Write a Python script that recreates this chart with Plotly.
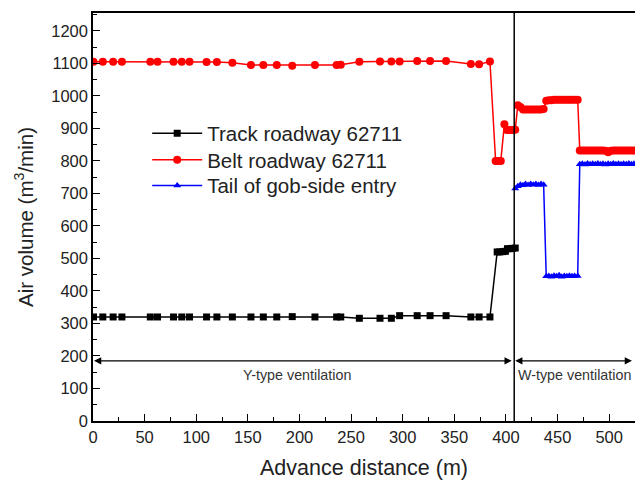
import plotly.graph_objects as go

# ---- data ----
track_x = [0.5, 9.5, 19.5, 28, 55.5, 62.5, 78, 86, 93.5, 110, 120, 135, 153, 165, 178, 193,
           215, 236, 240, 258, 278, 289, 297, 314, 326.5, 342, 366, 374, 384.5,
           391.5, 394, 397, 399.5, 401.5, 404, 406.5, 409]
track_y = [320, 320, 320, 320, 320, 320, 320, 320, 320, 320, 320, 320, 320, 320, 320, 321,
           320, 320, 320, 316, 316, 316, 324, 324, 324, 324, 320, 320, 320,
           520, 520, 521, 522, 530, 530, 531, 532]

belt_x = [0.5, 9.5, 19.5, 28, 55.5, 62.5, 78, 86, 93.5, 110, 120, 135, 153, 165, 178, 193,
          215, 236, 240, 258, 278, 289, 297, 314, 326.5, 342, 366, 374, 384.5,
          390, 392.5, 395, 398.5, 401, 403.5, 406, 409,
          411.5, 414, 416.5, 419, 421.5, 424, 426.5, 429, 431.5, 434, 436.5,
          439, 441.5, 444, 446.5, 449, 451.5, 454, 456.5, 459, 461.5, 464, 466.5, 469.5,
          471.5, 474, 476.5, 479, 481.5, 484, 486.5, 489, 491.5, 494, 496.5, 499, 501.5,
          504, 506.5, 509, 511.5, 514, 516.5, 519, 521.5, 524]
belt_y = [1105, 1105, 1105, 1105, 1105, 1105, 1105, 1105, 1105, 1104, 1104, 1102, 1095, 1095, 1095, 1093,
          1095, 1095, 1096, 1105, 1106, 1106, 1106, 1107, 1107, 1107, 1098, 1097, 1106,
          800, 800, 800, 913, 895, 895, 895, 896,
          971, 966, 958, 958, 958, 958, 958, 958, 958, 958, 960,
          985, 987, 987, 988, 988, 988, 988, 988, 988, 988, 988, 988, 988,
          832, 832, 832, 832, 832, 832, 832, 832, 832, 832, 831, 827, 831,
          832, 832, 832, 832, 832, 832, 832, 832, 832]

tail_x = [409, 411.5, 414, 416.5, 419, 421.5, 424, 426.5, 429, 431.5, 434, 436.5,
          439, 441.5, 444, 446.5, 449, 451.5, 454, 456.5, 459, 461.5, 464, 466.5, 469.5,
          471.5, 474, 476.5, 479, 481.5, 484, 486.5, 489, 491.5, 494, 496.5, 499, 501.5,
          504, 506.5, 509, 511.5, 514, 516.5, 519, 521.5, 524]
tail_y = [715, 722, 727, 725, 729, 726, 729, 727, 729, 726, 729, 727,
          445, 446, 444, 447, 445, 448, 444, 446, 445, 447, 445, 446, 446,
          790, 791, 789, 792, 790, 791, 790, 792, 790, 791, 789, 791, 790,
          792, 790, 791, 790, 791, 790, 792, 790, 791]

x_ticks = [0, 50, 100, 150, 200, 250, 300, 350, 400, 450, 500]
y_ticks = [0, 100, 200, 300, 400, 500, 600, 700, 800, 900, 1000, 1100, 1200]
switch_x = 408
arrow_y = 185

FONT = "Arial, Liberation Sans, sans-serif"

fig = go.Figure()
fig.add_trace(go.Scatter(x=track_x, y=track_y, mode="lines+markers", name="Track roadway 62711",
                         line=dict(color="black", width=1.5), legend="legend",
                         marker=dict(symbol="square", size=7, color="black")))
fig.add_trace(go.Scatter(x=belt_x, y=belt_y, mode="lines+markers", name="Belt roadway 62711",
                         line=dict(color="#ff0000", width=1.5), legend="legend2",
                         marker=dict(symbol="circle", size=8, color="#ff0000")))
fig.add_trace(go.Scatter(x=tail_x, y=tail_y, mode="lines+markers", name="Tail of gob-side entry",
                         line=dict(color="#0000ff", width=1.5), legend="legend3",
                         marker=dict(symbol="triangle-up", size=7, color="#0000ff")))

# vertical switch line
fig.add_shape(type="line", x0=switch_x, x1=switch_x, y0=0, y1=1, xref="x", yref="paper",
              line=dict(color="black", width=1.5))

# double arrows
fig.add_annotation(x=1, y=arrow_y, ax=switch_x - 1, ay=arrow_y, xref="x", yref="y",
                   axref="x", ayref="y", text="", showarrow=True, arrowhead=2,
                   arrowside="end+start", arrowsize=1.2, arrowwidth=1.2, arrowcolor="black")
fig.add_annotation(x=switch_x + 1, y=arrow_y, ax=523.5, ay=arrow_y, xref="x", yref="y",
                   axref="x", ayref="y", text="", showarrow=True, arrowhead=2,
                   arrowside="end+start", arrowsize=1.2, arrowwidth=1.2, arrowcolor="black")
fig.add_annotation(x=198, y=140, xref="x", yref="y", text="Y-type ventilation", showarrow=False,
                   font=dict(family=FONT, size=14.3, color="#333"))
fig.add_annotation(x=466, y=140, xref="x", yref="y", text="W-type ventilation", showarrow=False,
                   font=dict(family=FONT, size=14.3, color="#333"))

leg_common = dict(x=0.1, xanchor="left", yanchor="middle", bgcolor="rgba(0,0,0,0)",
                  font=dict(family=FONT, size=20.5, color="#222"), itemwidth=50)
fig.update_layout(
    width=635, height=480,
    margin=dict(l=93, r=0, t=13, b=59),
    paper_bgcolor="white", plot_bgcolor="white",
    font=dict(family=FONT, color="#222"),
    showlegend=True,
    legend=dict(y=0.705, **leg_common),
    legend2=dict(y=0.640, **leg_common),
    legend3=dict(y=0.577, **leg_common),
)
fig.update_xaxes(range=[0, 525], tickvals=x_ticks, ticks="inside", ticklen=7, tickwidth=1.2,
                 tickcolor="black", showline=True, linecolor="black", linewidth=1.5, mirror=True,
                 showgrid=False, zeroline=False, tickfont=dict(family=FONT, size=16.5, color="#222"),
                 minor=dict(dtick=25, ticks="inside", ticklen=4, tickcolor="black", tickwidth=1),
                 title=dict(text="Advance distance (m)", font=dict(family=FONT, size=21.5, color="#222"),
                            standoff=15))
fig.update_yaxes(range=[0, 1255], tickvals=y_ticks, ticks="inside", ticklen=7, tickwidth=1.2,
                 tickcolor="black", showline=True, linecolor="black", linewidth=1.5,
                 showgrid=False, zeroline=False, tickfont=dict(family=FONT, size=16.5, color="#222"),
                 minor=dict(dtick=50, ticks="inside", ticklen=4, tickcolor="black", tickwidth=1),
                 title=dict(text="Air volume (m<sup>3</sup>/min)", font=dict(family=FONT, size=20.5, color="#222"),
                            standoff=12))

fig.write_html("out.html")
